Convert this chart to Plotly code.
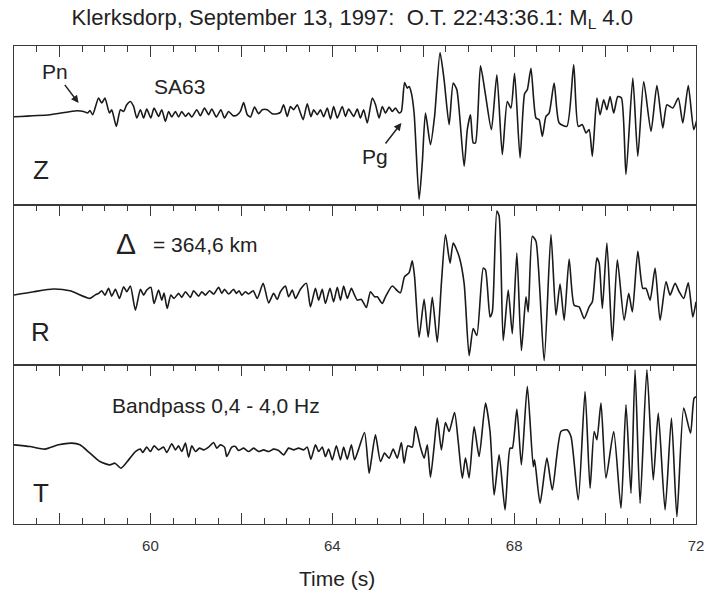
import plotly.graph_objects as go

# ---------------- data (time in s, amplitude in arbitrary units) ----------------
z_time = [57.00, 57.79, 58.38, 58.53, 58.62, 58.67, 58.73, 58.86, 58.93, 59.00, 59.10, 59.15, 59.25, 59.34,
          59.41, 59.48, 59.56, 59.63, 59.70, 59.78, 59.85, 59.92, 60.01, 60.08, 60.18, 60.25, 60.33, 60.40,
          60.47, 60.55, 60.62, 60.69, 60.77, 60.84, 60.91, 61.02, 61.10, 61.19, 61.28, 61.35, 61.45, 61.55,
          61.63, 61.72, 61.82, 61.90, 61.98, 62.05, 62.13, 62.20, 62.29, 62.38, 62.46, 62.57, 62.68, 62.79,
          62.86, 62.93, 63.01, 63.08, 63.15, 63.23, 63.30, 63.36, 63.45, 63.53, 63.59, 63.67, 63.74, 63.81,
          63.89, 63.96, 64.03, 64.11, 64.22, 64.29, 64.36, 64.47, 64.55, 64.62, 64.69, 64.77, 64.88, 64.95,
          65.03, 65.10, 65.17, 65.25, 65.32, 65.39, 65.47, 65.52, 65.59, 65.65, 65.69, 65.74, 65.80, 65.91,
          65.98, 66.05, 66.16, 66.25, 66.37, 66.46, 66.57, 66.66, 66.74, 66.90, 66.97, 67.04, 67.10, 67.15,
          67.26, 67.37, 67.50, 67.62, 67.74, 67.85, 67.93, 68.01, 68.13, 68.23, 68.29, 68.37, 68.48, 68.55,
          68.62, 68.70, 68.77, 68.88, 68.99, 69.16, 69.31, 69.41, 69.50, 69.58, 69.65, 69.72, 69.82, 69.89,
          69.97, 70.04, 70.11, 70.19, 70.28, 70.36, 70.46, 70.61, 70.72, 70.85, 71.01, 71.14, 71.27, 71.36,
          71.49, 71.61, 71.71, 71.83, 71.95, 72.02]
z_amp = [0, 2, 6, 5.3, 3.7, 6.3, 2, 18.7, 13.7, 18.7, 3.7, 7, -9.7, 7,
         5.3, 12, 15.3, 10.3, -1.3, 7, -1.3, 7.7, -1.3, 8.7, 0.3, 7, -4.7, 5.3,
         -0.3, 5.3, -0.3, 5.3, 0.3, 3.7, -0.3, 7, 1, 8.7, 2, 7.7, -0.3, 7,
         -1.3, 5.3, 1, 1.5, 5.3, 14.3, 2, -0.3, 9.7, 3, 7, 7, 3, 3,
         4.3, 12, 0.3, 10.3, 7, 12, 3.7, -3, 13, 0, 7, 2, 7, 0,
         8.7, -2.3, 10.3, -1.3, 10.3, 0.3, 7.7, 0.3, 7.7, -1.3, 7, -6.3, 18.7, 12.3,
         -1.3, 10.3, 3.7, 9.7, 5.3, 8.7, 3.7, 5.3, 34.3, 28.7, 30.3, 23.7, 3.7, -83,
         -46.3, 3.7, -28, 0.3, 64.3, 37, -8, 33.7, 27, -49.7, -13, 2, -26.3, -26.3,
         51, 22, -13, 42, -38, 15.3, 8.7, 43.7, -41.3, 23, 27, 48.7, -1.3, -3,
         -19.7, 0.3, 3.7, 33.7, -6.3, -9.7, 52, -9.7, -8, -16.3, -13, -39.7, 18.7, 2,
         17, 7, 20.3, 3.7, 20.3, 18.7, -58, 38.7, -39.7, 35.3, -14.7, 31.3, -11.3, 12,
         8.7, 18.7, -6.3, 31.3, -13, -3]

r_time = [57.00, 57.43, 57.87, 58.23, 58.67, 58.78, 58.86, 58.93, 59.00, 59.08, 59.15, 59.23, 59.32, 59.41,
          59.48, 59.56, 59.67, 59.78, 59.85, 59.92, 60.01, 60.08, 60.18, 60.25, 60.30, 60.37, 60.45, 60.52,
          60.62, 60.69, 60.77, 60.88, 60.95, 61.06, 61.13, 61.21, 61.30, 61.39, 61.50, 61.57, 61.63, 61.72,
          61.83, 61.89, 61.95, 62.01, 62.09, 62.16, 62.26, 62.35, 62.48, 62.60, 62.71, 62.79, 62.86, 62.97,
          63.04, 63.12, 63.19, 63.30, 63.43, 63.52, 63.63, 63.70, 63.78, 63.85, 63.95, 64.03, 64.11, 64.18,
          64.25, 64.33, 64.42, 64.49, 64.55, 64.64, 64.75, 64.84, 64.93, 64.99, 65.10, 65.17, 65.32, 65.43,
          65.50, 65.59, 65.69, 65.76, 65.81, 65.91, 66.02, 66.11, 66.20, 66.31, 66.40, 66.49, 66.59, 66.66,
          66.79, 66.90, 67.01, 67.10, 67.18, 67.32, 67.37, 67.47, 67.52, 67.62, 67.67, 67.76, 67.87, 67.96,
          68.06, 68.16, 68.26, 68.31, 68.40, 68.48, 68.66, 68.81, 68.92, 69.01, 69.10, 69.21, 69.32, 69.43,
          69.54, 69.65, 69.72, 69.82, 69.87, 69.94, 70.04, 70.16, 70.27, 70.42, 70.52, 70.60, 70.72, 70.83,
          70.90, 70.99, 71.10, 71.21, 71.34, 71.43, 71.54, 71.63, 71.73, 71.83, 71.93, 72.00]
r_amp = [0, 3.3, 6, 4.3, -3.3, 0, 1.7, 4.3, 0, 6.7, -1, 5.7, -3.3, 8.3,
         3.3, 9, -15, 5.7, 0, 5, 7.7, -8.3, 5, -5, 2, -13.3, 0, -3.3,
         1.7, -2.3, 3.3, -2.3, 4.3, -1, 3.3, 0, 4.3, 1, 7.7, 1.7, 5.7, 1,
         5.7, 1.7, 4.3, 0, 3.3, 1, 4.3, -3.3, 11.7, -7.7, 1.7, -4.3, 3.3, 9,
         -1.7, 5, -3.3, 5.7, 11.7, -11.7, 6.7, -5, 5.7, -8.3, 6.7, -6.7, 7.7, -5,
         9, -3.3, 6.7, 0, -5, -4.3, -12.3, 3.3, -1.7, -1.7, -8.3, -1.7, 9, 4.3,
         2.3, 18.3, 22.3, 34, 18.3, -41.7, -4.3, -41.7, -2.3, -46.7, 11.7, 60, 31.7, 51.7,
         38.3, 11.7, -60, -33.3, -40, 26.7, 25, -21.7, -16.7, 83.3, 78.3, -45, 5, -38.3,
         41.7, -55, -1.7, -16.7, 58.3, 53.3, -65, 60, -20, 11, -25, 35.7, -10, -11.7,
         -23.3, -11.7, -6.7, 36.7, 31.7, -13.3, 51.7, -45, 35, -25, 1.7, -16.7, 43.3, 6.7,
         6.7, -5, 26.7, -25, 13.3, 0, 11.7, 3.3, -3.3, 12.3, -21.7, -6.7]

t_time = [57.00, 57.35, 57.68, 57.98, 58.27, 58.45, 58.67, 58.89, 59.11, 59.22, 59.35, 59.52, 59.67, 59.78,
          59.83, 59.92, 60.00, 60.08, 60.18, 60.29, 60.36, 60.47, 60.55, 60.62, 60.69, 60.77, 60.84, 60.91,
          60.99, 61.08, 61.17, 61.28, 61.39, 61.46, 61.54, 61.63, 61.68, 61.79, 61.87, 61.94, 62.05, 62.16,
          62.27, 62.38, 62.49, 62.60, 62.71, 62.82, 62.93, 63.04, 63.15, 63.26, 63.37, 63.45, 63.53, 63.63,
          63.70, 63.78, 63.85, 63.92, 64.00, 64.09, 64.18, 64.25, 64.33, 64.42, 64.49, 64.58, 64.71, 64.81,
          64.86, 64.95, 65.06, 65.15, 65.25, 65.34, 65.43, 65.52, 65.58, 65.66, 65.76, 65.83, 65.94, 66.02,
          66.09, 66.16, 66.24, 66.31, 66.40, 66.49, 66.57, 66.69, 66.77, 66.86, 66.93, 67.01, 67.12, 67.23,
          67.37, 67.47, 67.56, 67.67, 67.80, 67.91, 67.96, 68.06, 68.16, 68.29, 68.42, 68.45, 68.57, 68.72,
          68.84, 69.03, 69.16, 69.25, 69.41, 69.56, 69.67, 69.76, 69.82, 69.91, 70.02, 70.19, 70.35, 70.46,
          70.57, 70.66, 70.77, 70.92, 71.06, 71.17, 71.32, 71.46, 71.58, 71.73, 71.88, 71.96, 72.02]
t_amp = [0, -1.7, -4.3, 0, 1.7, 0, -8.3, -16.7, -20, -18.3, -23.3, -15, -6.7, -4.3,
         -7.7, -2.3, -6.7, -1, -5, -2.3, -7.7, 1, -5, -1, -6.7, 1.7, -12.3, -1,
         -6.7, -3.3, -5, -2.3, 2.3, -3.3, 0, -2.3, -11.7, -2.3, -1.7, -5.7, -3.3, -6.7,
         -3.3, -6.7, -5, -6.7, -4.3, -5.7, -10, -3.3, -5, -3.3, -5, -2.3, -14.3, 0,
         -6.7, -2.3, -11.7, -4.3, -15, -1, -15, -2.3, -14.3, 0, -15, -4.3, 12.3, -28.3,
         -15, 10, -16.7, -8.3, -13.3, -4.3, -13.3, 2.3, -18.3, -1, -2.3, 18.3, -2.3, -13.3,
         0, -32.3, -1.7, 26.7, -5, 22.3, 13.3, 32.3, 3.3, -33.3, -13, -33, 18.3, -11.7,
         41.7, 13.3, -50, -10, -65, -3.3, -3.3, 35.7, -20, 58.3, -21.7, -15, -58.3, -13.3,
         -45, 13.3, 15, 8.3, -55, 53.3, -43.3, 13.3, 5, 41.7, -33.3, 13.3, -63.3, 40,
         -48.3, 75, -58.3, 75, -35, 31.7, -65, 26.7, -71.7, 36.7, 11.7, 46.7, 48.3]

tick_vals = [58, 60, 62, 64, 66, 68, 70, 72]
tick_text = ["", "60", "", "64", "", "68", "", "72"]

title_text = "Klerksdorp, September 13, 1997:  O.T. 22:43:36.1: M<sub>L</sub> 4.0"

# ---------------- figure ----------------
FONT = "Liberation Sans, Arial, Helvetica, sans-serif"
INK = "#1a1a1a"
FRAME = "#3a3a3a"
line_style = dict(color=INK, width=1.6, shape="spline", smoothing=0.6)

fig = go.Figure()
fig.add_trace(go.Scatter(x=z_time, y=z_amp, xaxis="x", yaxis="y", mode="lines",
                         line=line_style, showlegend=False, hoverinfo="skip"))
fig.add_trace(go.Scatter(x=r_time, y=r_amp, xaxis="x2", yaxis="y2", mode="lines",
                         line=line_style, showlegend=False, hoverinfo="skip"))
fig.add_trace(go.Scatter(x=t_time, y=t_amp, xaxis="x3", yaxis="y3", mode="lines",
                         line=line_style, showlegend=False, hoverinfo="skip"))

xcommon = dict(range=[57, 72], tickvals=tick_vals, showgrid=False, zeroline=False,
               showline=True, linecolor=FRAME, linewidth=1.2, automargin=False,
               ticks="inside", ticklen=11, tickwidth=1.2, tickcolor=FRAME,
               minor=dict(ticks="inside", ticklen=6, tickwidth=1.2, tickcolor=FRAME,
                          dtick=0.5, tick0=57, showgrid=False),
               domain=[0, 1])
ycommon = dict(showgrid=False, zeroline=False, showline=True, linecolor=FRAME, automargin=False,
               linewidth=1.2, mirror=True, ticks="", showticklabels=False)

fig.update_layout(
    width=704, height=593,
    margin=dict(l=14, r=8, t=46, b=69, autoexpand=False),
    paper_bgcolor="white", plot_bgcolor="white",
    font=dict(family=FONT, color="#222"),
    title=dict(text=title_text, x=0.496, xanchor="center", y=1 - 17 / 593, yanchor="middle",
               xref="paper", yref="container", font=dict(size=22, family=FONT, color="#222")),
    xaxis=dict(**xcommon, anchor="y", side="top", mirror=True, showticklabels=False),
    xaxis2=dict(**xcommon, anchor="y2", side="top", mirror=True, showticklabels=False, matches="x"),
    xaxis3=dict(**xcommon, anchor="y3", side="bottom", mirror="ticks", showticklabels=True,
                ticktext=tick_text, tickfont=dict(size=15, color="#333"), ticklabelstandoff=8,
                ticklabeloverflow="allow", matches="x"),
    yaxis=dict(**ycommon, domain=[2 / 3, 1], range=[-89, 71]),
    yaxis2=dict(**ycommon, domain=[1 / 3, 2 / 3], range=[-69, 89]),
    yaxis3=dict(**ycommon, domain=[0, 1 / 3], range=[-79, 80]),
)

ann_font = dict(family=FONT, size=21, color="#222")
letter_font = dict(family=FONT, size=26, color="#222")
annotations = [
    # phase labels with their arrows (text sits at the arrow tail)
    dict(text="Pn", x=58.42, y=13.7, ax=57.90, ay=45, xref="x", yref="y", axref="x", ayref="y",
         showarrow=True, arrowhead=2, arrowsize=1, arrowwidth=1.5, arrowcolor="#222",
         standoff=0, startstandoff=0, font=ann_font),
    dict(text="SA63", x=60.63, y=30, xref="x", yref="y", showarrow=False, font=ann_font),
    dict(text="Pg", x=65.52, y=-6.3, ax=64.95, ay=-40, xref="x", yref="y", axref="x", ayref="y",
         showarrow=True, arrowhead=2, arrowsize=1, arrowwidth=1.5, arrowcolor="#222",
         standoff=0, startstandoff=0, font=ann_font),
    dict(text="Z", x=57.59, y=-54, xref="x", yref="y", showarrow=False, font=letter_font),
    dict(text="Δ", x=59.47, y=51, xref="x2", yref="y2", showarrow=False,
         font=dict(family=FONT, size=30, color="#222")),
    dict(text="= 364,6 km", x=61.19, y=50, xref="x2", yref="y2", showarrow=False, font=ann_font),
    dict(text="R", x=57.59, y=-37, xref="x2", yref="y2", showarrow=False, font=letter_font),
    dict(text="Bandpass 0,4 - 4,0 Hz", x=61.44, y=39, xref="x3", yref="y3", showarrow=False,
         font=ann_font),
    dict(text="T", x=57.59, y=-48, xref="x3", yref="y3", showarrow=False, font=letter_font),
    dict(text="Time (s)", x=0.4736, y=-0.113, xref="paper", yref="paper", showarrow=False,
         xanchor="center", yanchor="middle", font=dict(family=FONT, size=21, color="#222")),
]
fig.update_layout(annotations=annotations)

fig.write_html("out.html")
